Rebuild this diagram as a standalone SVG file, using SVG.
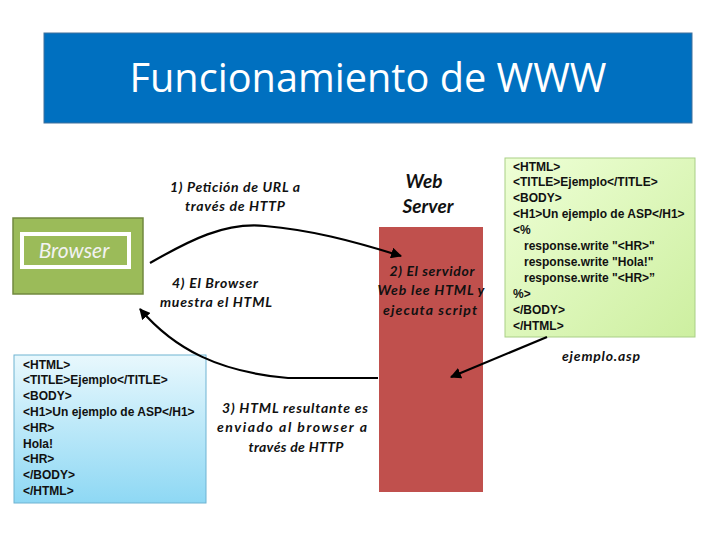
<svg xmlns="http://www.w3.org/2000/svg" width="720" height="540" viewBox="0 0 720 540">
<defs>
<linearGradient id="gBlue" x1="0" y1="0" x2="0" y2="1">
<stop offset="0" stop-color="#E8F8FD"/>
<stop offset="1" stop-color="#8ED8F4"/>
</linearGradient>
<linearGradient id="gGreen" x1="0" y1="0" x2="1" y2="1">
<stop offset="0" stop-color="#EEFFD6"/>
<stop offset="1" stop-color="#CDEFA0"/>
</linearGradient>
<marker id="ah" viewBox="0 0 10 10" refX="9" refY="5" markerWidth="5" markerHeight="5" orient="auto" markerUnits="strokeWidth">
<path d="M0,0 L10,5 L0,10 z" fill="#000"/>
</marker>
<style>
.lbl{font-family:Lato,"Open Sans","DejaVu Sans",sans-serif;font-style:italic;font-weight:bold;font-size:14px;fill:#111;text-anchor:middle}
.big{font-size:19px}
.code{font-family:"Liberation Sans",Arial,sans-serif;font-weight:bold;font-size:12px;fill:#111}
.conn{fill:none;stroke:#000;stroke-width:2.2;marker-end:url(#ah)}
</style>
</defs>
<rect width="720" height="540" fill="#fff"/>
<g id="title">
<rect x="44" y="33" width="648" height="90" fill="#0070C0" stroke="#41719C" stroke-width="1"/>
<text x="368" y="92" font-family="'Open Sans',Lato,sans-serif" font-size="40" fill="#fff" text-anchor="middle" textLength="477" lengthAdjust="spacingAndGlyphs">Funcionamiento de WWW</text>
</g>
<g id="browser">
<rect x="13" y="218" width="130" height="76" fill="#9BBB59" stroke="#71893F" stroke-width="1.5"/>
<rect x="22" y="234" width="107" height="33" fill="none" stroke="#fff" stroke-width="4"/>
<text x="74" y="258" font-family="Lato,'Open Sans',sans-serif" font-style="italic" font-size="21" fill="#F2F2F2" text-anchor="middle">Browser</text>
</g>
<g id="server">
<rect x="379" y="227" width="104" height="265" fill="#C0504D"/>
<text class="lbl big" x="424" y="188">Web</text>
<text class="lbl big" x="428" y="213">Server</text>
<text class="lbl" x="432" y="276" textLength="85">2) El servidor</text>
<text class="lbl" x="431" y="295" textLength="107">Web lee HTML y</text>
<text class="lbl" x="430" y="315" textLength="94">ejecuta script</text>
</g>
<g id="asp">
<rect x="505" y="158" width="190" height="179" fill="url(#gGreen)" stroke="#A9CF86" stroke-width="1"/>
<text class="code" x="513" y="170.5">&lt;HTML&gt;</text>
<text class="code" x="513" y="186.4">&lt;TITLE&gt;Ejemplo&lt;/TITLE&gt;</text>
<text class="code" x="513" y="202.3">&lt;BODY&gt;</text>
<text class="code" x="513" y="218.2">&lt;H1&gt;Un ejemplo de ASP&lt;/H1&gt;</text>
<text class="code" x="513" y="234.1">&lt;%</text>
<text class="code" x="524" y="250">response.write "&lt;HR&gt;"</text>
<text class="code" x="524" y="265.9">response.write "Hola!"</text>
<text class="code" x="524" y="281.8">response.write "&lt;HR&gt;”</text>
<text class="code" x="513" y="297.7">%&gt;</text>
<text class="code" x="513" y="313.6">&lt;/BODY&gt;</text>
<text class="code" x="513" y="329.5">&lt;/HTML&gt;</text>
<text class="lbl" x="601" y="361" textLength="78">ejemplo.asp</text>
</g>
<g id="result">
<rect x="14" y="355" width="192" height="148" fill="url(#gBlue)" stroke="#6FB3D2" stroke-width="1"/>
<text class="code" x="23" y="368.5">&lt;HTML&gt;</text>
<text class="code" x="23" y="384.3">&lt;TITLE&gt;Ejemplo&lt;/TITLE&gt;</text>
<text class="code" x="23" y="400.1">&lt;BODY&gt;</text>
<text class="code" x="23" y="415.9">&lt;H1&gt;Un ejemplo de ASP&lt;/H1&gt;</text>
<text class="code" x="23" y="431.7">&lt;HR&gt;</text>
<text class="code" x="23" y="447.5">Hola!</text>
<text class="code" x="23" y="463.3">&lt;HR&gt;</text>
<text class="code" x="23" y="479.1">&lt;/BODY&gt;</text>
<text class="code" x="23" y="494.9">&lt;/HTML&gt;</text>
</g>
<g id="labels">
<text class="lbl" x="235" y="192" textLength="130">1) Petición de URL a</text>
<text class="lbl" x="235" y="211" textLength="100">través de HTTP</text>
<text class="lbl" x="215" y="288" textLength="86">4) El Browser</text>
<text class="lbl" x="216" y="307" textLength="112">muestra el HTML</text>
<text class="lbl" x="295" y="413" textLength="146">3) HTML resultante es</text>
<text class="lbl" x="292" y="432" textLength="150">enviado al browser a</text>
<text class="lbl" x="296" y="452" textLength="95">través de HTTP</text>
</g>
<g id="connectors">
<path class="conn" d="M150,263 C190,240 225,222 265,226 C310,230 350,240 401,256"/>
<path class="conn" d="M378,378 L288,378 C220,372 175,350 140,309"/>
<path class="conn" d="M547,337 L451,377"/>
</g>
</svg>
